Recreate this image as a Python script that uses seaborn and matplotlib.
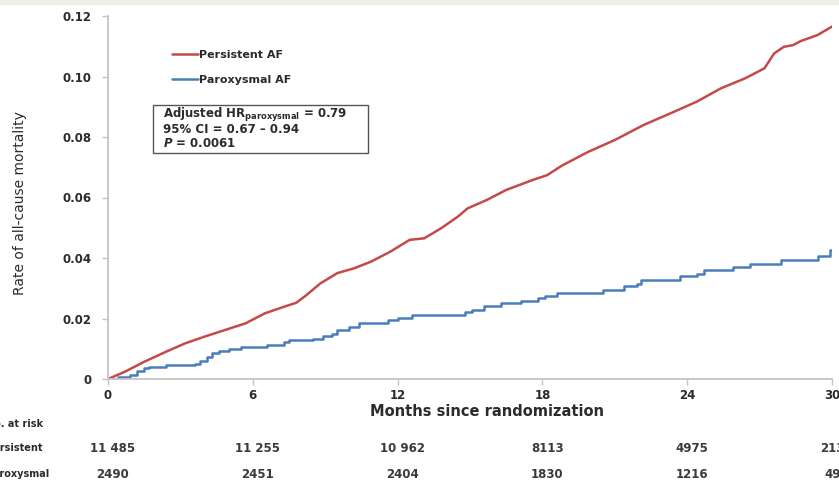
import matplotlib
matplotlib.use("Agg")
import matplotlib.pyplot as plt
import matplotlib.transforms as mtransforms
from matplotlib.patches import Rectangle
import seaborn as sns
import pandas as pd

# Cumulative all-cause mortality, persistent AF (months, rate)
persistent_months = [0, 0.7, 1.5, 2.4, 3.2, 4.0, 4.85, 5.7, 6.5, 7.3, 7.8, 8.2, 8.8, 9.5,
                     10.2, 10.9, 11.7, 12.5, 13.1, 13.8, 14.5, 14.9, 15.7, 16.5, 17.6,
                     18.2, 18.8, 19.9, 21.0, 22.2, 23.3, 24.4, 25.4, 26.4, 27.2, 27.6,
                     28.0, 28.4, 28.7, 29.4, 30.0]
persistent_rate = [0, 0.0024, 0.0057, 0.0090, 0.0118, 0.0140, 0.0162, 0.0184, 0.0217,
                   0.0239, 0.0252, 0.0276, 0.0316, 0.0350, 0.0366, 0.0388, 0.0421, 0.0460,
                   0.0465, 0.0498, 0.0537, 0.0564, 0.0592, 0.0625, 0.0658, 0.0674, 0.0705,
                   0.0751, 0.0790, 0.0840, 0.0878, 0.0917, 0.0961, 0.0994, 0.1027, 0.1076,
                   0.1098, 0.1104, 0.1117, 0.1137, 0.1165]

# Cumulative all-cause mortality, paroxysmal AF (step times, rate)
paroxysmal_months = [0, 0.4, 0.9, 1.2, 1.5, 1.7, 2.4, 3.6, 3.8, 4.1, 4.3, 4.6, 5.0, 5.5,
                     6.6, 7.3, 7.5, 8.5, 8.9, 9.3, 9.5, 10.0, 10.4, 11.6, 12.0, 12.6,
                     14.8, 15.1, 15.6, 16.3, 17.1, 17.8, 18.1, 18.6, 20.5, 21.4, 21.9,
                     22.1, 23.7, 24.4, 24.7, 25.9, 26.6, 27.9, 29.4, 29.9, 30.0]
paroxysmal_rate = [0, 0.0007, 0.0012, 0.0027, 0.0035, 0.0040, 0.0046, 0.0050, 0.0060,
                   0.0072, 0.0085, 0.0094, 0.0100, 0.0107, 0.0112, 0.0122, 0.0128, 0.0133,
                   0.0142, 0.0150, 0.0162, 0.0172, 0.0186, 0.0194, 0.0203, 0.0210, 0.0220,
                   0.0228, 0.0242, 0.0250, 0.0257, 0.0267, 0.0275, 0.0283, 0.0295, 0.0306,
                   0.0314, 0.0328, 0.0342, 0.0348, 0.0360, 0.0369, 0.0379, 0.0393, 0.0407,
                   0.0426, 0.0426]

x_ticks = [0, 6, 12, 18, 24, 30]
y_ticks = [0, 0.02, 0.04, 0.06, 0.08, 0.10, 0.12]
y_tick_labels = ["0", "0.02", "0.04", "0.06", "0.08", "0.10", "0.12"]

risk_persistent = ["11 485", "11 255", "10 962", "8113", "4975", "2134"]
risk_paroxysmal = ["2490", "2451", "2404", "1830", "1216", "490"]

RED = "#c44a4a"
BLUE = "#4a7dbb"
AXIS_GREY = "#c4c4c4"
TEXT = "#2b2b2b"

sns.set_style("white")
plt.rcParams["font.family"] = ["DejaVu Sans"]
plt.rcParams["mathtext.fontset"] = "custom"
plt.rcParams["mathtext.rm"] = "DejaVu Sans:bold"
plt.rcParams["mathtext.bf"] = "DejaVu Sans:bold"
plt.rcParams["mathtext.it"] = "DejaVu Sans:bold:italic"

W, H = 839, 484
fig = plt.figure(figsize=(W / 100, H / 100), dpi=100)
fig.patch.set_facecolor("white")
ax = fig.add_axes([108 / W, 1 - 379 / H, 724 / W, 363 / H])

df_p = pd.DataFrame({"month": persistent_months, "rate": persistent_rate})
df_x = pd.DataFrame({"month": paroxysmal_months, "rate": paroxysmal_rate})

sns.lineplot(data=df_p, x="month", y="rate", ax=ax, color=RED, lw=1.8,
             estimator=None, label="Persistent AF")
sns.lineplot(data=df_x, x="month", y="rate", ax=ax, color=BLUE, lw=1.8,
             estimator=None, drawstyle="steps-post", label="Paroxysmal AF")

ax.set_xlim(0, 30)
ax.set_ylim(0, 0.12)
ax.set_xticks(x_ticks)
ax.set_xticklabels([str(t) for t in x_ticks])
ax.set_yticks(y_ticks)
ax.set_yticklabels(y_tick_labels)
ax.set_xlabel("")
ax.set_ylabel("")
for s in ["top", "right"]:
    ax.spines[s].set_visible(False)
for s in ["left", "bottom"]:
    ax.spines[s].set_color(AXIS_GREY)
    ax.spines[s].set_linewidth(1.3)
ax.tick_params(axis="both", which="major", direction="out", length=4, width=1,
               color=AXIS_GREY, labelcolor=TEXT, labelsize=8.5)
ax.tick_params(axis="y", pad=8, left=True)
ax.tick_params(axis="x", pad=3, bottom=True)
for lab in ax.get_xticklabels() + ax.get_yticklabels():
    lab.set_fontweight("bold")

leg = ax.legend(loc="upper left", bbox_to_anchor=(0.075, 0.935), frameon=False,
                handlelength=2.3, handletextpad=0.1, labelspacing=1.35,
                prop={"weight": "bold", "size": 8})
for t in leg.get_texts():
    t.set_color(TEXT)

# Statistics box
ax.add_patch(Rectangle((0.0622, 0.623), 0.297, 0.132, transform=ax.transAxes,
                       fill=False, ec="#555555", lw=1.0, zorder=3))
box_x = 0.076
ax.text(box_x, 0.726, r"Adjusted HR$_{\mathregular{paroxysmal}}$ = 0.79", transform=ax.transAxes,
        fontsize=8.5, fontweight="bold", color=TEXT, va="center", ha="left")
ax.text(box_x, 0.686, "95% CI = 0.67 \u2013 0.94", transform=ax.transAxes,
        fontsize=8.5, fontweight="bold", color=TEXT, va="center", ha="left")
ax.text(box_x, 0.650, r"$\mathit{P}$ = 0.0061", transform=ax.transAxes,
        fontsize=8.5, fontweight="bold", color=TEXT, va="center", ha="left")

# Axis titles
fig.text(487 / W, 1 - 412 / H, "Months since randomization", ha="center", va="center",
         fontsize=10.5, fontweight="bold", color=TEXT)
fig.text(20 / W, 1 - 203 / H, "Rate of all-cause mortality", ha="center", va="center",
         rotation=90, fontsize=10, color=TEXT)

# Numbers at risk
blend = mtransforms.blended_transform_factory(ax.transData, fig.transFigure)
fig.text(-14 / W, 1 - 424 / H, "No. at risk", ha="left", va="center",
         fontsize=7, fontweight="bold", color=TEXT)
fig.text(-14 / W, 1 - 448 / H, "Persistent", ha="left", va="center",
         fontsize=7, fontweight="bold", color=TEXT)
fig.text(-14 / W, 1 - 474 / H, "Paroxysmal", ha="left", va="center",
         fontsize=7, fontweight="bold", color=TEXT)
for m, a, b in zip(x_ticks, risk_persistent, risk_paroxysmal):
    ax.text(m + 0.2, 1 - 448 / H, a, transform=blend, ha="center", va="center",
            fontsize=8.5, fontweight="bold", color="#3a3a3a", clip_on=False)
    ax.text(m + 0.2, 1 - 474 / H, b, transform=blend, ha="center", va="center",
            fontsize=8.5, fontweight="bold", color="#3a3a3a", clip_on=False)

# Pale band along the top edge
fig.patches.append(Rectangle((0, 1 - 4 / H), 1, 4 / H, transform=fig.transFigure,
                             color="#eef0e4", zorder=0))

fig.savefig("out.png", dpi=100)
